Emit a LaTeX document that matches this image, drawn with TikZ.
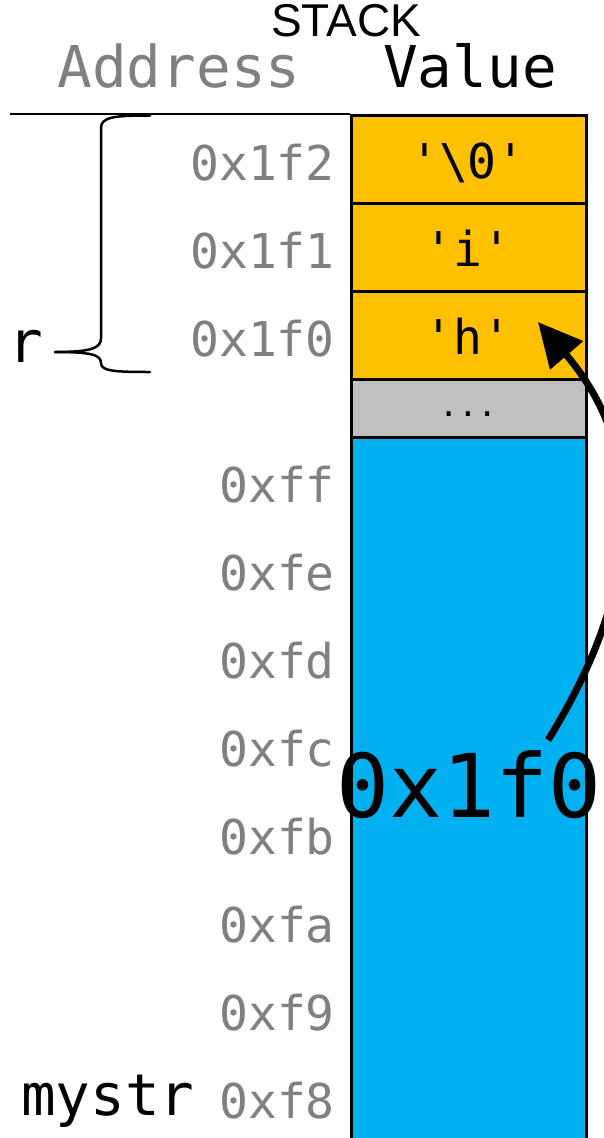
\documentclass[tikz,border=0pt]{standalone}
\usepackage{fontspec}
\setmonofont{DejaVu Sans Mono}
\newfontfamily\stackfont{Liberation Sans}
\usetikzlibrary{arrows.meta}
\definecolor{cellorange}{HTML}{FFC000}
\definecolor{cellgray}{HTML}{BFBFBF}
\definecolor{cellblue}{HTML}{00B0F0}
\definecolor{addrgray}{HTML}{808080}
\begin{document}
\begin{tikzpicture}[x=1pt,y=-1pt,
  cell/.style={draw=black,line width=2.5pt,anchor=north west,inner sep=0pt,minimum width=235pt},
  addr/.style={anchor=base east,inner sep=0pt,text=addrgray,font=\ttfamily\fontsize{48}{48}\selectfont},
  val/.style={anchor=base,inner sep=0pt,font=\ttfamily\fontsize{48}{48}\selectfont},
  head/.style={anchor=base,inner sep=0pt,font=\ttfamily\fontsize{57.6}{58}\selectfont},
  brace/.style={line width=2.5pt,line cap=round},
  pointer/.style={line width=7pt,-{Triangle[length=44pt,width=42pt]}}
]
\useasboundingbox (0,0) rectangle (604,1138);
\begin{scope}
\clip (0,0) rectangle (604,1138);
% header
\node[anchor=base,inner sep=0pt,font=\stackfont\fontsize{46}{46}\selectfont] (stack) at (346,36) {STACK};
\node[head,text=addrgray] (haddr) at (179,87) {Address};
\node[head] (hval) at (470,87) {Value};
\coordinate (lineL) at (10,114);
\coordinate (lineR) at (350,114);
\draw[line width=2.5pt] (lineL) -- (lineR);
% cells
\node[cell,fill=cellblue,minimum height=720pt] (cblue) at (350,436) {};
\node[cell,fill=cellgray,minimum height=58pt] (cgray) at (350,378) {};
\node[cell,fill=cellorange,minimum height=88pt] (c0) at (350,290) {};
\node[cell,fill=cellorange,minimum height=88pt] (c1) at (350,202) {};
\node[cell,fill=cellorange,minimum height=88pt] (c2) at (350,114) {};
% values
\node[val] (v2) at (468,178) {'\textbackslash0'};
\node[val] (v1) at (468,266) {'i'};
\node[val] (v0) at (468,354) {'h'};
\node[anchor=base,inner sep=0pt,font=\ttfamily\fontsize{32}{32}\selectfont] (dots) at (468,416) {...};
% addresses
\node[addr] (a1f2) at (335,180) {0x1f2};
\node[addr] (a1f1) at (335,268) {0x1f1};
\node[addr] (a1f0) at (335,356) {0x1f0};
\node[addr] (aff) at (335,502) {0xff};
\node[addr] (afe) at (335,590) {0xfe};
\node[addr] (afd) at (335,678) {0xfd};
\node[addr] (afc) at (335,766) {0xfc};
\node[addr] (afb) at (335,854) {0xfb};
\node[addr] (afa) at (335,942) {0xfa};
\node[addr] (af9) at (335,1030) {0xf9};
\node[addr] (af8) at (335,1118) {0xf8};
% variable names
\node[head] (r) at (26,362) {r};
\node[head,anchor=base west] (mystr) at (21,1115) {mystr};
% brace
\coordinate (btop) at (150,115.5);
\coordinate (btip) at (55,352);
\coordinate (bbot) at (150,372);
\draw[brace] (btop) .. controls (114,115.5) and (101,117) .. (101,128) -- (101,338) .. controls (101,348) and (92,352) .. (btip);
\draw[brace] (btip) .. controls (92,352) and (101,355) .. (101,363) .. controls (101,371) and (114,372) .. (bbot);
% pointer
\node[anchor=base,inner sep=0pt,font=\ttfamily\fontsize{88}{88}\selectfont] (ptr) at (469,817) {0x1f0};
\coordinate (pstart) at (548,740);
\coordinate (ptip) at (538,322);
\draw[pointer] (pstart) .. controls (623,620) and (665,470) .. (ptip);
\end{scope}
\end{tikzpicture}
\end{document}
